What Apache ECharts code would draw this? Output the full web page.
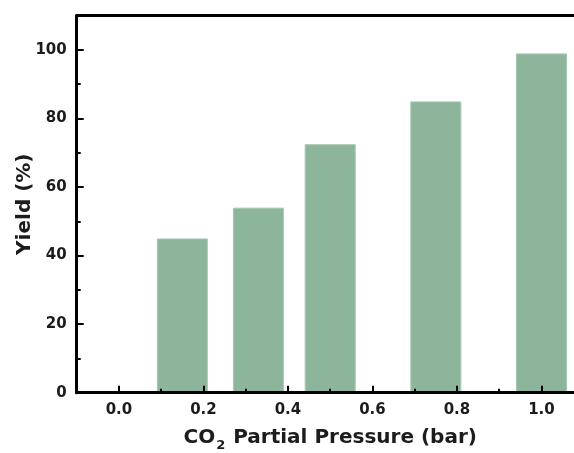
<!DOCTYPE html>
<html>
<head>
<meta charset="utf-8">
<script src="https://cdn.jsdelivr.net/npm/echarts@6/dist/echarts.min.js"></script>
<style>
  html, body { margin: 0; padding: 0; background: #fff; }
  #chart { width: 574px; height: 453px; }
</style>
</head>
<body>
<div id="chart"></div>
<script>
// CO2 partial pressure (bar) at which each run was made, and the yield obtained (%)
const pressures = [0.15, 0.33, 0.5, 0.75, 1.0];
const yields = [45, 54, 72.5, 85, 99];

// axis tick positions
const xMajorTicks = [0.0, 0.2, 0.4, 0.6, 0.8, 1.0];
const xMinorTicks = [0.1, 0.3, 0.5, 0.7, 0.9];
const yMajorTicks = [0, 20, 40, 60, 80, 100];
const yMinorTicks = [10, 30, 50, 70, 90];

const FONT = 'DejaVu Sans';
const INK = '#1c1c1c';
const LINE = '#000';

const chart = echarts.init(document.getElementById('chart'), null, { renderer: 'canvas' });

const xRange = { min: -0.1, max: 1.1 };
const yRange = { min: 0, max: 110 };

chart.setOption({
  animation: false,
  backgroundColor: '#fff',
  grid: { left: 76.7, top: 15.7, width: 507, height: 377, containLabel: false, outerBoundsMode: 'none' },
  xAxis: [
    {
      type: 'value', position: 'bottom', ...xRange, z: 10,
      axisLine: { show: true, onZero: false, lineStyle: { color: LINE, width: 3 } },
      axisTick: { show: true, inside: true, length: 7, lineStyle: { color: LINE, width: 2 }, customValues: xMajorTicks },
      axisLabel: {
        show: true, customValues: xMajorTicks, margin: 10,
        formatter: v => v.toFixed(1),
        color: INK, fontFamily: FONT, fontWeight: 'bold', fontSize: 15
      },
      splitLine: { show: false },
      name: '{a|CO}{s|2}{a| Partial Pressure (bar)}',
      nameLocation: 'middle', nameGap: 33, nameMoveOverlap: false,
      nameTextStyle: {
        rich: {
          a: { fontFamily: FONT, fontWeight: 'bold', fontSize: 20, color: INK, lineHeight: 24 },
          s: { fontFamily: FONT, fontWeight: 'bold', fontSize: 13, color: INK, lineHeight: 24, padding: [15, 1, 0, 1] }
        }
      }
    },
    {
      type: 'value', position: 'bottom', ...xRange, z: 10,
      axisLine: { show: false, onZero: false },
      axisTick: { show: true, inside: true, length: 4, lineStyle: { color: LINE, width: 2 }, customValues: xMinorTicks },
      axisLabel: { show: false },
      splitLine: { show: false }
    },
    {
      type: 'value', position: 'top', ...xRange, z: 10,
      axisLine: { show: true, onZero: false, lineStyle: { color: LINE, width: 3 } },
      axisTick: { show: false },
      axisLabel: { show: false },
      splitLine: { show: false }
    }
  ],
  yAxis: [
    {
      type: 'value', position: 'left', ...yRange, z: 10,
      axisLine: { show: true, onZero: false, lineStyle: { color: LINE, width: 3 } },
      axisTick: { show: true, inside: true, length: 7, lineStyle: { color: LINE, width: 2 }, customValues: yMajorTicks },
      axisLabel: {
        show: true, customValues: yMajorTicks, margin: 10,
        color: INK, fontFamily: FONT, fontWeight: 'bold', fontSize: 15
      },
      splitLine: { show: false },
      name: 'Yield (%)',
      nameLocation: 'middle', nameGap: 42, nameRotate: 90, nameMoveOverlap: false,
      nameTextStyle: { fontFamily: FONT, fontWeight: 'bold', fontSize: 20, color: INK }
    },
    {
      type: 'value', position: 'left', ...yRange, z: 10,
      axisLine: { show: false, onZero: false },
      axisTick: { show: true, inside: true, length: 4, lineStyle: { color: LINE, width: 2 }, customValues: yMinorTicks },
      axisLabel: { show: false },
      splitLine: { show: false }
    }
  ],
  series: [
    {
      type: 'bar',
      xAxisIndex: 0, yAxisIndex: 0,
      barWidth: 51,
      data: pressures.map((p, i) => [p, yields[i]]),
      itemStyle: { color: '#8db59b', borderColor: '#a6c6b0', borderWidth: 1 },
      z: 2
    }
  ]
});
</script>
</body>
</html>
